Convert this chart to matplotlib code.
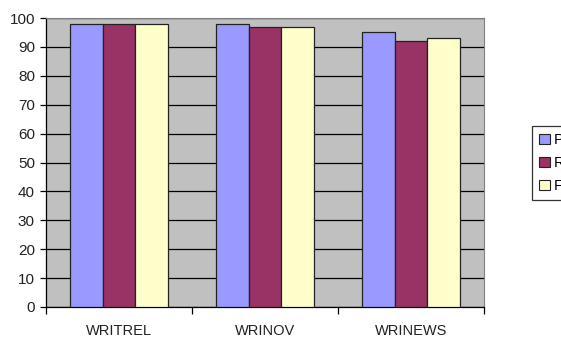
import numpy as np
import matplotlib.pyplot as plt
from matplotlib.patches import Patch

plt.rcParams["font.family"] = ["Liberation Sans", "DejaVu Sans"]

categories = ["WRITREL", "WRINOV", "WRINEWS"]
series_names = ["Precision", "Recall", "F-measure"]
precision = [98, 98, 95]
recall = [98, 97, 92]
f_measure = [98, 97, 93]
colors = ["#9999FF", "#993366", "#FFFFCC"]

fig = plt.figure(figsize=(5.61, 3.37), dpi=100)
ax = fig.add_axes([46 / 561, 30 / 337, 438 / 561, 289 / 337])
ax.set_facecolor("#C0C0C0")

x = np.arange(len(categories))
width = 1 / 4.5
for i, (vals, c) in enumerate(zip([precision, recall, f_measure], colors)):
    ax.bar(x + (i - 1) * width, vals, width, color=c, edgecolor="#222222",
           linewidth=0.9, zorder=3)

ax.set_xlim(-0.5, 2.5)
ax.set_ylim(0, 100)
ax.set_yticks(np.arange(0, 101, 10))
ax.yaxis.grid(True, color="black", linewidth=0.9, zorder=1)
ax.set_axisbelow(True)

# category labels at centres, tick marks at the boundaries
ax.set_xticks(x)
ax.set_xticklabels(categories, color="#222222")
ax.set_xticks(np.arange(-0.5, 3, 1), minor=True)
ax.tick_params(axis="x", which="major", length=0, pad=12, labelsize=10.5)
ax.tick_params(axis="x", which="minor", length=5, width=0.9, direction="out")
ax.tick_params(axis="y", length=4, width=0.9, pad=4, labelsize=11,
               labelcolor="#222222")

for s in ["top", "right"]:
    ax.spines[s].set_color("#808080")
for s in ["left", "bottom"]:
    ax.spines[s].set_color("black")
    ax.spines[s].set_linewidth(0.9)

handles = [Patch(facecolor=c, edgecolor="#222222", linewidth=0.8) for c in colors]
leg = fig.legend(handles, series_names, loc="upper left",
                 bbox_to_anchor=(532 / 561, 1 - 126 / 337),
                 fontsize=10.5, frameon=True, fancybox=False, borderpad=0.5,
                 handlelength=0.7, handleheight=0.7, handletextpad=0.3,
                 labelspacing=0.6, borderaxespad=0)
leg.get_frame().set_edgecolor("black")
leg.get_frame().set_linewidth(0.9)

fig.savefig("out.png", dpi=100)
plt.close()
